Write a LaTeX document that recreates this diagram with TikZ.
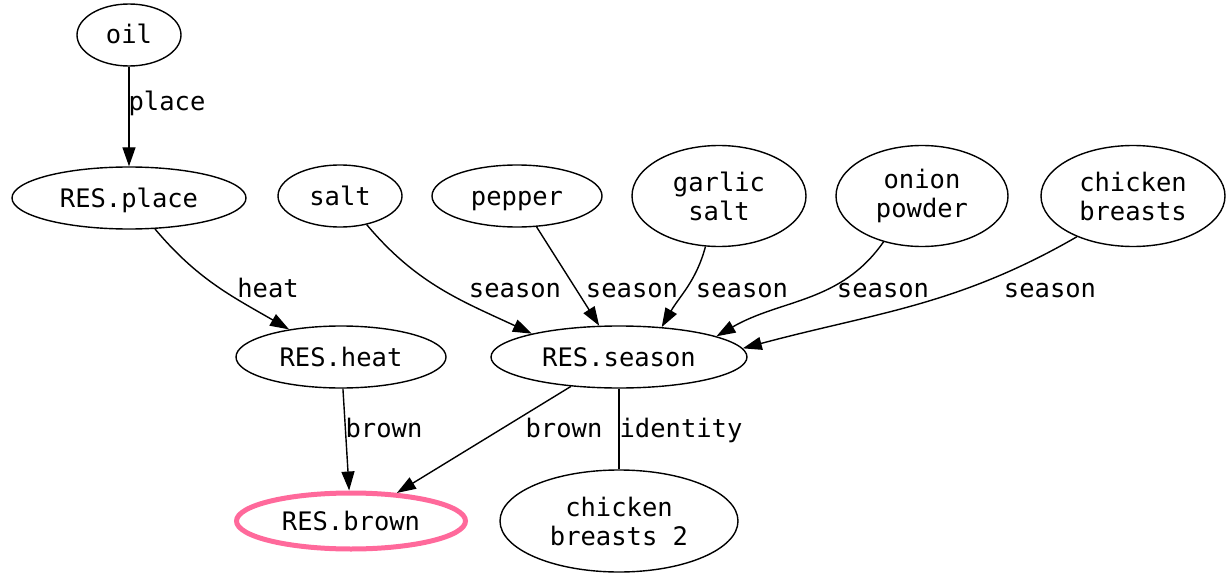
\documentclass[tikz,border=0pt]{standalone}
\usepackage{fontspec}
\setmonofont{DejaVu Sans Mono}
\usetikzlibrary{shapes.geometric,arrows.meta}
\definecolor{goalpink}{RGB}{255,105,155}
\begin{document}
\begin{tikzpicture}[x=1pt,y=-1pt,
  every node/.style={font=\ttfamily\fontsize{25.5}{29}\selectfont},
  ing/.style={ellipse, draw, line width=1.4pt, inner sep=0pt, align=center},
  one/.style={text height=18pt, text depth=0pt},
  goal/.style={ellipse, draw=goalpink, line width=5pt, inner sep=0pt, align=center},
  edge/.style={line width=1.4pt, -{Triangle[length=19pt,width=13pt]}},
  plain/.style={line width=1.4pt},
  lbl/.style={inner sep=0pt, one}]
\useasboundingbox (0,0) rectangle (1226,575);

% ingredients and intermediate results
\node[ing, one, minimum width=104pt, minimum height=62pt] (oil) at (129,35) {oil};
\node[ing, one, minimum width=234pt, minimum height=62pt] (place) at (129,198) {RES.place};
\node[ing, one, minimum width=124pt, minimum height=62pt] (salt) at (340,196) {salt};
\node[ing, one, minimum width=170pt, minimum height=62pt] (pepper) at (517,196) {pepper};
\node[ing, minimum width=174pt, minimum height=101pt] (garlic) at (719,196) {garlic\\salt};
\node[ing, minimum width=172pt, minimum height=101pt] (onion) at (922,196) {onion\\powder};
\node[ing, minimum width=184pt, minimum height=101pt] (chicken) at (1133,196) {chicken\\breasts};
\node[ing, one, minimum width=210pt, minimum height=62pt] (heat) at (341,357) {RES.heat};
\node[ing, one, minimum width=256pt, minimum height=62pt] (season) at (619,357) {RES.season};
\node[goal, one, minimum width=229pt, minimum height=56pt] (brown) at (351,521) {RES.brown};
\node[ing, minimum width=238pt, minimum height=102pt] (chicken2) at (619,521) {chicken\\breasts 2};

% steps
\draw[edge] (oil) -- (place);
\draw[edge] (place.-50) to[out=-50,in=150] (heat.152);
\draw[edge] (salt.-47) to[out=-50,in=155] (season.165);
\draw[edge] (pepper) -- (season);
\draw[edge] (garlic.-105) to[out=-105,in=60] (season.35);
\draw[edge] (onion.-130) to[out=-125,in=30] (season.12);
\draw[edge] (chicken.-144) to[out=-150,in=15] (season.4);
\draw[edge] (heat) -- (brown);
\draw[edge] (season) -- (brown);
\draw[plain] (season) -- (chicken2);

% step labels
\node[lbl] (lplace) at (167,102) {place};
\node[lbl] (lheat) at (268,288) {heat};
\node[lbl] (ls1) at (515,288) {season};
\node[lbl] (ls2) at (632,288) {season};
\node[lbl] (ls3) at (742,288) {season};
\node[lbl] (ls4) at (883,288) {season};
\node[lbl] (ls5) at (1050,288) {season};
\node[lbl] (lb1) at (384,428) {brown};
\node[lbl] (lb2) at (564,428) {brown};
\node[lbl] (lid) at (681,428) {identity};
\end{tikzpicture}
\end{document}
